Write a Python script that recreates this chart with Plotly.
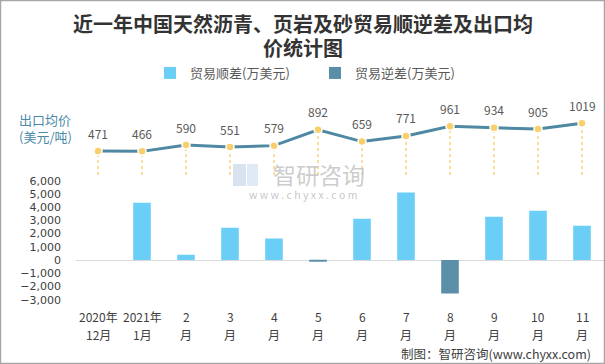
import plotly.graph_objects as go

# ---- data ----
categories = ["2020年12月", "2021年1月", "2月", "3月", "4月", "5月", "6月", "7月", "8月", "9月", "10月", "11月"]
tick_top = ["2020年", "2021年", "2", "3", "4", "5", "6", "7", "8", "9", "10", "11"]
tick_bottom = ["12月", "1月", "月", "月", "月", "月", "月", "月", "月", "月", "月", "月"]
surplus = [None, 4340, 400, 2450, 1620, None, 3130, 5100, None, 3280, 3730, 2600]
deficit = [None, None, None, None, None, -130, None, None, -2530, None, None, None]
price = [471, 466, 590, 551, 579, 892, 659, 771, 961, 934, 905, 1019]
bar_ticks = [-3000, -2000, -1000, 0, 1000, 2000, 3000, 4000, 5000, 6000]
title_lines = ["近一年中国天然沥青、页岩及砂贸易顺逆差及出口均", "价统计图"]

W, H = 605, 364
FONT = "Noto Sans CJK SC"

def py(px):
    return (H - px) / H

fig = go.Figure()

fig.add_trace(go.Bar(x=categories, y=surplus, name="贸易顺差(万美元)", width=0.4,
                     marker=dict(color="#6ACEF6", line=dict(width=0)), yaxis="y"))
fig.add_trace(go.Bar(x=categories, y=deficit, name="贸易逆差(万美元)", width=0.4,
                     marker=dict(color="#5B8FA8", line=dict(width=0)), yaxis="y"))

# drop lines from price points
dx, dy = [], []
for c, p in zip(categories, price):
    dx += [c, c, None]
    dy += [0, p, None]
fig.add_trace(go.Scatter(x=dx, y=dy, mode="lines", yaxis="y2", showlegend=False,
                         line=dict(color="#F8D27E", width=1.5, dash="dot"), hoverinfo="skip"))
fig.add_trace(go.Scatter(x=categories, y=price, mode="lines+markers", yaxis="y2", showlegend=False,
                         line=dict(color="#4F88A3", width=3),
                         marker=dict(color="#F8CF6B", size=8, line=dict(color="white", width=1.5))))

annotations = []
for c, p in zip(categories, price):
    annotations.append(dict(x=c, y=p, xref="x", yref="y2", text=str(p), showarrow=False,
                            yshift=18, font=dict(size=12, color="#595959", family=FONT)))
for c, t1, t2 in zip(categories, tick_top, tick_bottom):
    annotations.append(dict(x=c, y=py(316), xref="x", yref="paper", text=t1, showarrow=False,
                            yanchor="middle", font=dict(size=12, color="#404040", family=FONT)))
    annotations.append(dict(x=c, y=py(334), xref="x", yref="paper", text=t2, showarrow=False,
                            yanchor="middle", font=dict(size=12, color="#404040", family=FONT)))

for t, yy in zip(title_lines, [24, 48]):
    annotations.append(dict(x=0.5, y=py(yy), xref="paper", yref="paper", text="<b>%s</b>" % t,
                            showarrow=False, yanchor="middle",
                            font=dict(size=20, color="#333333", family=FONT)))

annotations.append(dict(x=17 / W, y=py(128), xref="paper", yref="paper", xanchor="left", yanchor="middle",
                        text="出口均价<br>(美元/吨)", showarrow=False, align="left",
                        font=dict(size=13, color="#4A89A8", family=FONT)))
annotations.append(dict(x=593 / W, y=py(353), xref="paper", yref="paper", xanchor="right", yanchor="middle",
                        text="制图：智研咨询(www.chyxx.com)", showarrow=False,
                        font=dict(size=12.5, color="#404040", family=FONT)))
# watermark
annotations.append(dict(x=319 / W, y=py(174), xref="paper", yref="paper", text="智研咨询", showarrow=False,
                        font=dict(size=23, color="rgba(170,170,170,0.6)", family=FONT)))
annotations.append(dict(x=303 / W, y=py(194), xref="paper", yref="paper", text="w w w . c h y x x . c o m",
                        showarrow=False, font=dict(size=10.5, color="rgba(160,160,160,0.6)", family=FONT)))

shapes = [
    dict(type="rect", xref="paper", yref="paper", x0=233 / W, x1=246 / W, y0=py(186), y1=py(164),
         line=dict(width=0), fillcolor="rgba(180,200,225,0.5)", layer="below"),
    dict(type="rect", xref="paper", yref="paper", x0=247 / W, x1=258 / W, y0=py(186), y1=py(164),
         line=dict(width=0), fillcolor="rgba(190,215,235,0.5)", layer="below"),
    dict(type="rect", xref="paper", yref="paper", x0=0.5 / W, x1=1 - 0.5 / W, y0=0.5 / H, y1=1 - 0.5 / H,
         line=dict(color="#A6A6A6", width=1.5)),
]

fig.update_layout(
    width=W, height=H,
    margin=dict(l=0, r=0, t=0, b=0),
    paper_bgcolor="white", plot_bgcolor="white",
    barmode="overlay",
    font=dict(family=FONT, color="#404040"),
    legend=dict(orientation="h", x=150 / W, xanchor="left", y=py(73), yanchor="middle",
                font=dict(size=13, color="#595959", family=FONT),
                entrywidth=120, entrywidthmode="pixels", bgcolor="rgba(0,0,0,0)"),
    xaxis=dict(domain=[76 / W, 604 / W], type="category", categoryorder="array", categoryarray=categories,
               showticklabels=False, showline=False, showgrid=False, zeroline=False, ticks="",
               range=[-0.5, 11.5], anchor="y"),
    yaxis=dict(domain=[py(299.7), py(180.7)], range=[-3000, 6000], tickvals=bar_ticks, tickformat=",",
               showgrid=False, zeroline=True, zerolinecolor="#D9D9D9", zerolinewidth=1,
               showline=False, ticks="", ticklabelstandoff=14, automargin=False,
               tickfont=dict(size=11, color="#404040", family="DejaVu Sans")),
    yaxis2=dict(domain=[py(175), py(115)], range=[0, 1183], visible=False, anchor="x"),
    annotations=annotations,
    shapes=shapes,
)

fig.write_html("out.html", config={"displayModeBar": False},
               post_script="document.body.style.margin='0px';document.body.style.padding='0px';")
